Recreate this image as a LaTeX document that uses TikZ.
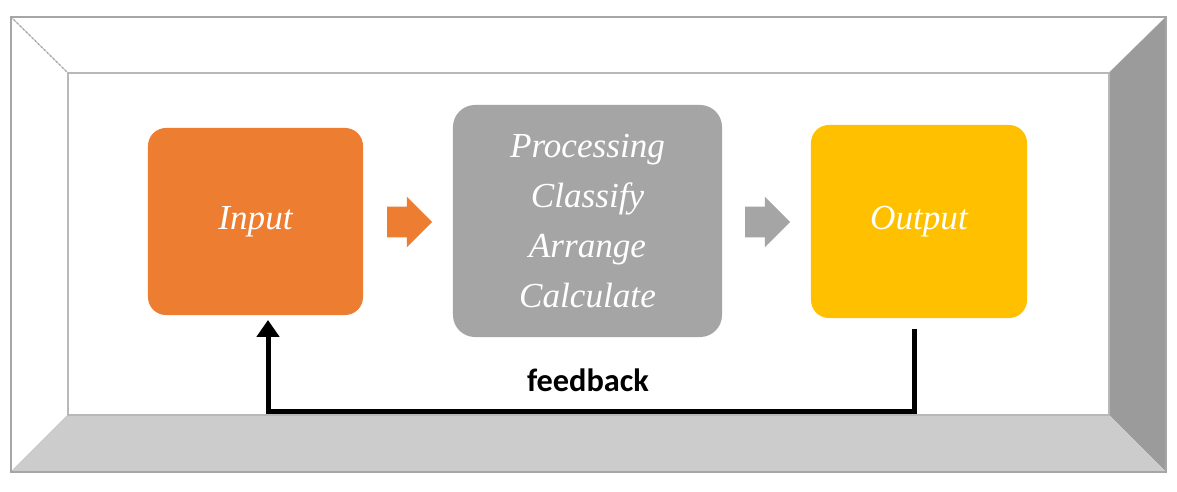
\documentclass[tikz,border=0pt]{standalone}
\usepackage{fontspec}
\setmainfont{Liberation Serif}
\newfontfamily\fbfont{Carlito}
\usetikzlibrary{shapes.arrows,arrows.meta}
\definecolor{inorange}{HTML}{ED7D31}
\definecolor{procgray}{HTML}{A5A5A5}
\definecolor{outyellow}{HTML}{FFC000}
\definecolor{framegray}{HTML}{A6A6A6}
\definecolor{darkside}{HTML}{9B9B9B}
\definecolor{lightside}{HTML}{CCCCCC}
\tikzset{
  stagebox/.style={rounded corners=0.45cm, inner sep=0pt, text=white,
    font=\itshape\fontsize{25pt}{35.5pt}\selectfont, align=center},
  flowarrow/.style={single arrow, minimum height=1.125cm, inner xsep=0pt,
    inner ysep=0.375cm, single arrow head extend=0.25cm, draw=none},
}
\begin{document}
\begin{tikzpicture}[x=0.025cm,y=-0.025cm]
      \useasboundingbox (0,0) rectangle (1177,492);
      % frame
      \fill[white] (0,0) rectangle (1177,492);
      \filldraw[fill=white, draw=framegray!70, line width=0.6pt]
        (11,17) -- (1166,17) -- (1109,73) -- (68,73) -- cycle;
      \filldraw[fill=white, draw=framegray!70, line width=0.6pt]
        (11,17) -- (68,73) -- (68,415) -- (11,472) -- cycle;
      \fill[darkside] (1166,17) -- (1166,472) -- (1109,415) -- (1109,73) -- cycle;
      \fill[lightside] (11,472) -- (1166,472) -- (1109,415) -- (68,415) -- cycle;
      \draw[framegray, dotted, line width=1pt] (11,17) -- (68,73);
      \draw[lightside!90!black, line width=0.8pt] (68,73) rectangle (1109,415);
      \draw[framegray, line width=1.5pt] (11,17) rectangle (1166,472);
      % stages
      \draw
        (255.5,221.5) node[stagebox, fill=inorange, minimum width=5.375cm, minimum height=4.675cm] (input){Input}
        (587.5,221) node[stagebox, fill=procgray, minimum width=6.725cm, minimum height=5.8cm, rounded corners=0.55cm] (process){Processing\\Classify\\Arrange\\Calculate}
        (919,221.5) node[stagebox, fill=outyellow, minimum width=5.4cm, minimum height=4.825cm] (output){Output};
      \node[flowarrow, fill=inorange] (arr1) at (402,222) {};
      \node[flowarrow, fill=procgray] (arr2) at (760,222) {};
      % feedback loop
      \coordinate (fbstart) at (914,329);
      \coordinate (fbcorner) at (914,411);
      \coordinate (fbend) at (268,320);
      \begin{scope}[line width=0.125cm]
        \draw[-{Triangle[width=0.55cm,length=0.42cm]}] (fbstart) -- (fbcorner) -| (fbend);
      \end{scope}
      \node[font=\fbfont\bfseries\fontsize{23pt}{27pt}\selectfont] (fblabel) at (588,380) {feedback};
    \end{tikzpicture}
\end{document}
